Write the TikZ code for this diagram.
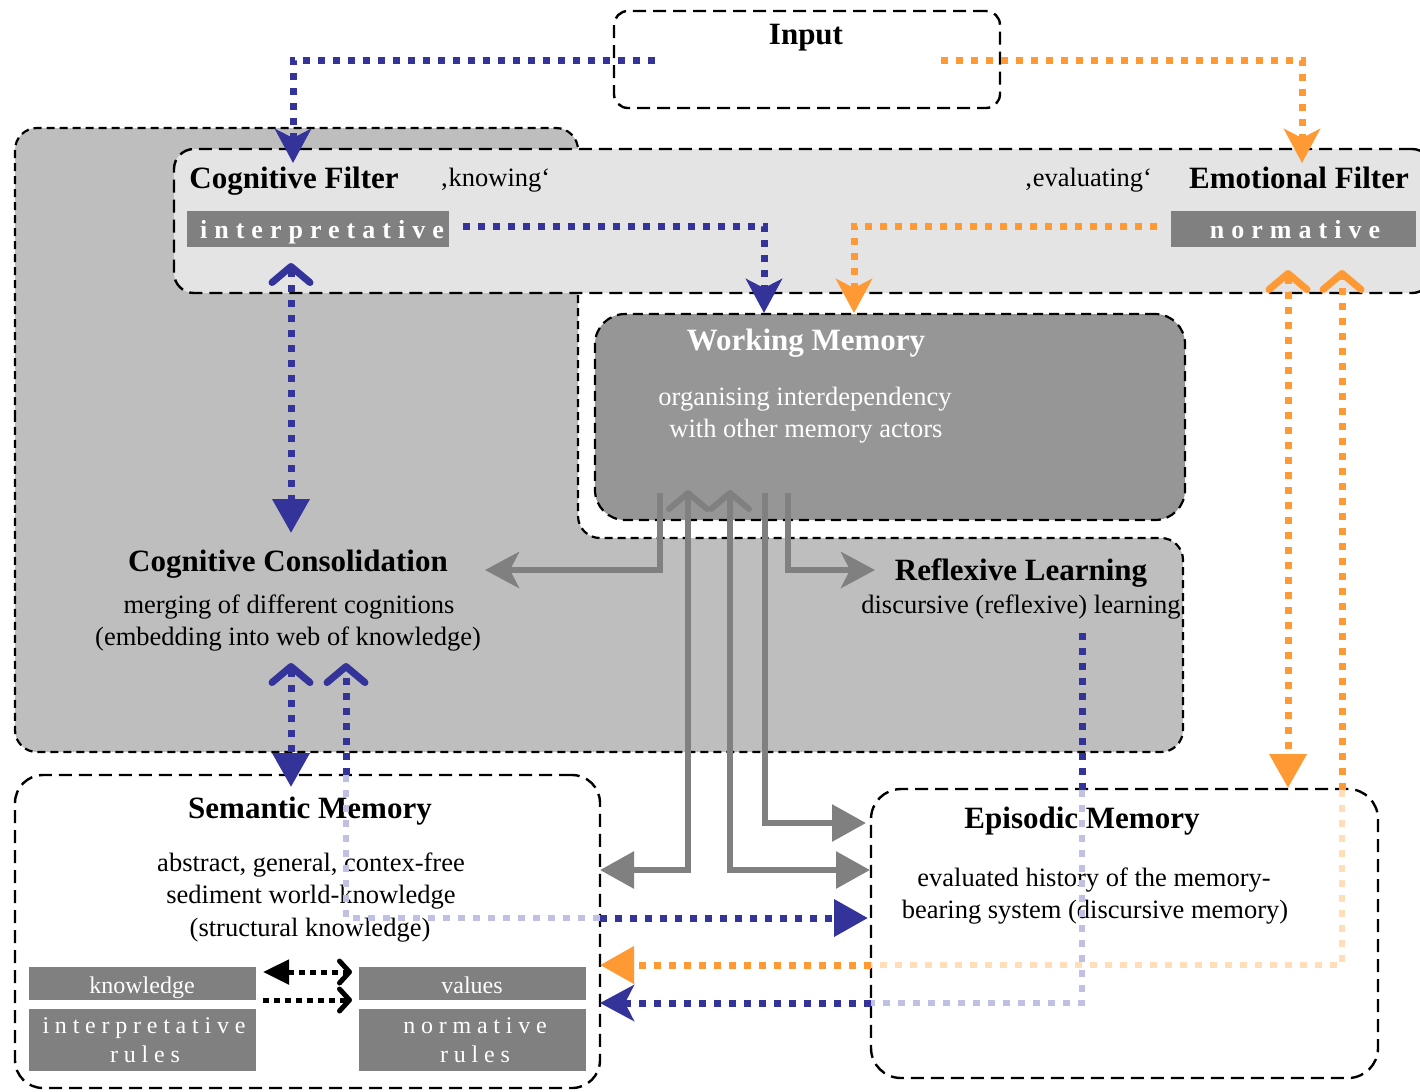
\documentclass[tikz,border=0pt]{standalone}
\usepackage{fontspec}
\setmainfont{Liberation Serif}
\newfontfamily\spacedB[LetterSpace=27]{Liberation Serif}
\newfontfamily\spacedR[LetterSpace=24]{Liberation Serif}
\usetikzlibrary{arrows.meta,fit}
\definecolor{cblue}{RGB}{51,51,153}
\definecolor{corange}{RGB}{255,153,51}
\definecolor{cfaintb}{RGB}{192,192,228}
\definecolor{cfainto}{RGB}{255,222,185}
\definecolor{cgrey}{RGB}{128,128,128}
\definecolor{regiong}{RGB}{190,190,190}
\definecolor{filterg}{RGB}{228,228,228}
\definecolor{wmg}{RGB}{150,150,150}
\definecolor{lblg}{RGB}{128,128,128}
\begin{document}
\begin{tikzpicture}[x=0.5bp,y=-0.5bp,
  bx/.style={draw=black, line width=1.2bp, dash pattern=on 6.5bp off 3.5bp, inner sep=0pt},
  bxfine/.style={draw=black, line width=1.1bp, dash pattern=on 5bp off 3bp, inner sep=0pt},
  lblbox/.style={fill=lblg, inner sep=0pt},
  ttl/.style={font=\fontsize{15.5bp}{18bp}\selectfont\bfseries, anchor=base, inner sep=0pt},
  bodytxt/.style={font=\fontsize{13.25bp}{16bp}\selectfont, anchor=base, inner sep=0pt},
  lbltxt/.style={font=\fontsize{13bp}{16bp}\spacedB\bfseries, text=white, anchor=base, inner sep=0pt},
  smltxt/.style={font=\fontsize{12bp}{14bp}\selectfont, text=white, anchor=base, inner sep=0pt},
  smlsp/.style={font=\fontsize{12bp}{14bp}\spacedR, text=white, anchor=base, inner sep=0pt},
  stl/.tip={Stealth[length=17bp,width=18bp,inset=4.5bp]},
  tri/.tip={Triangle[length=17bp,width=18bp]},
  chev/.tip={Straight Barb[length=8bp,width=19bp,round]},
  btri/.tip={Triangle[length=13bp,width=12bp]},
  bchev/.tip={Straight Barb[length=5bp,width=11bp,round]},
  bluel/.style={draw=cblue, line width=3.5bp, dash pattern=on 3.5bp off 4bp},
  orangel/.style={draw=corange, line width=3.5bp, dash pattern=on 3.5bp off 4bp},
  faintb/.style={draw=cfaintb, line width=3bp, dash pattern=on 3.5bp off 4bp},
  fainto/.style={draw=cfainto, line width=3bp, dash pattern=on 3.5bp off 4bp},
  greyl/.style={draw=cgrey, line width=3bp},
  blackl/.style={draw=black, line width=2.5bp, dash pattern=on 3bp off 2.5bp}
]
\useasboundingbox (0,0) rectangle (1420,1091);
% grey region
\draw[fill=regiong, line width=1.1bp, dash pattern=on 4bp off 2.5bp, rounded corners=11bp]
  (15,440) -- (15,128) -- (578,128) -- (578,538) -- (1183,538) -- (1183,752) -- (15,752) -- cycle;
% boxes
\node[bx, fill=filterg, rounded corners=10bp, fit={(174,149) (1432,293)}] (filter) {};
\node[bx, rounded corners=7bp, fit={(614,11) (1000,108)}] (input) {};
\node[bxfine, fill=wmg, rounded corners=15bp, fit={(595,314) (1185,520)}] (wm) {};
\node[bx, fill=white, rounded corners=14bp, fit={(15,775) (600,1088)}] (sem) {};
\node[bx, fill=white, rounded corners=15bp, fit={(871,789) (1378,1078)}] (epi) {};
\node[lblbox, fit={(187,211) (449,247)}] (bInterp) {};
\node[lblbox, fit={(1171,211) (1416,247)}] (bNorm) {};
\node[lblbox, fit={(29,967) (256,1000)}] (bKnow) {};
\node[lblbox, fit={(29,1009) (256,1071)}] (bIR) {};
\node[lblbox, fit={(359,967) (586,1000)}] (bVal) {};
\node[lblbox, fit={(359,1009) (586,1071)}] (bNR) {};
% texts
\node[ttl] (tInput) at (806,44) {Input};
\node[ttl] (tCF) at (294,188) {Cognitive Filter};
\node[bodytxt] (tKnow) at (495,186) {‚knowing‘};
\node[bodytxt] (tEval) at (1088,186) {‚evaluating‘};
\node[ttl] (tEF) at (1299,188) {Emotional Filter};
\node[lbltxt] (tInterp) at (322,238) {interpretative};
\node[lbltxt] (tNorm) at (1295,238) {normative};
\node[ttl, text=white] (tWM) at (806,350) {Working Memory};
\node[bodytxt, text=white] (tWM1) at (805,405) {organising interdependency};
\node[bodytxt, text=white] (tWM2) at (806,437) {with other memory actors};
\node[ttl] (tCC) at (288,571) {Cognitive Consolidation};
\node[bodytxt] (tCC1) at (289,613) {merging of different cognitions};
\node[bodytxt] (tCC2) at (288,645) {(embedding into web of knowledge)};
\node[ttl] (tRL) at (1021,580) {Reflexive Learning};
\node[bodytxt] (tRL1) at (1021,613) {discursive (reflexive) learning};
\node[ttl] (tSM) at (310,818) {Semantic Memory};
\node[bodytxt] (tSM1) at (311,871) {abstract, general, contex-free};
\node[bodytxt] (tSM2) at (311,903) {sediment world-knowledge};
\node[bodytxt] (tSM3) at (310,936) {(structural knowledge)};
\node[ttl] (tEM) at (1082,828) {Episodic Memory};
\node[bodytxt] (tEM1) at (1094,886) {evaluated history of the memory-};
\node[bodytxt] (tEM2) at (1095,918) {bearing system (discursive memory)};
\node[smltxt] (tK) at (142,993) {knowledge};
\node[smlsp] (tIR1) at (144,1033) {interpretative};
\node[smlsp] (tIR2) at (145,1062) {rules};
\node[smltxt] (tV) at (472,993) {values};
\node[smlsp] (tNR1) at (475,1033) {normative};
\node[smlsp] (tNR2) at (475,1062) {rules};
% coordinates
\coordinate (inBl) at (655,60);   \coordinate (cfIn) at (293,163);
\coordinate (inOr) at (941,60);   \coordinate (efIn) at (1302,163);
\coordinate (cfOut) at (463,226); \coordinate (wmInB) at (764,313);
\coordinate (efOut) at (1157,226);\coordinate (wmInO) at (854,313);
\coordinate (cfDown) at (291,263);\coordinate (ccTop) at (291,533);
\coordinate (wmA) at (660,493);   \coordinate (ccIn) at (485,570);
\coordinate (wmE) at (788,493);   \coordinate (rlIn) at (875,570);
\coordinate (wmB) at (688,490);   \coordinate (semInG) at (600,870);
\coordinate (wmC) at (730,490);   \coordinate (epiInG1) at (870,870);
\coordinate (wmD) at (765,493);   \coordinate (epiInG2) at (866,823);
\coordinate (ccBotA) at (291,663);\coordinate (semTopA) at (291,787);
\coordinate (ccBotB) at (346,663);\coordinate (semTopB) at (346,775);
\coordinate (semRight) at (600,918); \coordinate (epiInB) at (868,918);
\coordinate (efA) at (1288,270);  \coordinate (epiTopA) at (1288,788);
\coordinate (efB) at (1342,270);  \coordinate (epiTopB) at (1342,790);
\coordinate (epiLeftO) at (871,965); \coordinate (semInO) at (600,965);
\coordinate (rlOut) at (1082,633); \coordinate (epiTopC) at (1082,790);
\coordinate (epiLeftB) at (871,1003); \coordinate (semInB) at (600,1003);
\coordinate (kvL) at (263,972);  \coordinate (kvR) at (352,972);
\coordinate (kvL2) at (263,1000); \coordinate (kvR2) at (352,1000);
% connectors
\draw[bluel, -{stl}] (inBl) -| (cfIn);
\draw[orangel, -{stl}] (inOr) -| (efIn);
\draw[bluel, -{stl}] (cfOut) -| (wmInB);
\draw[orangel, -{stl}] (efOut) -| (wmInO);
\draw[bluel, {chev}-{tri}] (cfDown) -- (ccTop);
\draw[greyl, -{stl}] (wmA) |- (ccIn);
\draw[greyl, -{stl}] (wmE) |- (rlIn);
\draw[greyl, {chev}-{tri}] (wmB) |- (semInG);
\draw[greyl, {chev}-{tri}] (wmC) |- (epiInG1);
\draw[greyl, -{tri}] (wmD) |- (epiInG2);
\draw[bluel, {chev}-{tri}] (ccBotA) -- (semTopA);
\draw[faintb] (semTopB) |- (semRight);
\draw[bluel, -{chev}] (semTopB) -- (ccBotB);
\draw[bluel, -{tri}] (semRight) -- (epiInB);
\draw[orangel, {chev}-{tri}] (efA) -- (epiTopA);
\draw[fainto] (epiTopB) |- (epiLeftO);
\draw[orangel, -{chev}] (epiTopB) -- (efB);
\draw[orangel, -{tri}] (epiLeftO) -- (semInO);
\draw[faintb] (epiTopC) |- (epiLeftB);
\draw[bluel] (rlOut) -- (epiTopC);
\draw[bluel, -{stl}] (epiLeftB) -- (semInB);
\draw[blackl, {btri}-{bchev}] (kvL) -- (kvR);
\draw[blackl, -{bchev}] (kvL2) -- (kvR2);
\end{tikzpicture}
\end{document}
